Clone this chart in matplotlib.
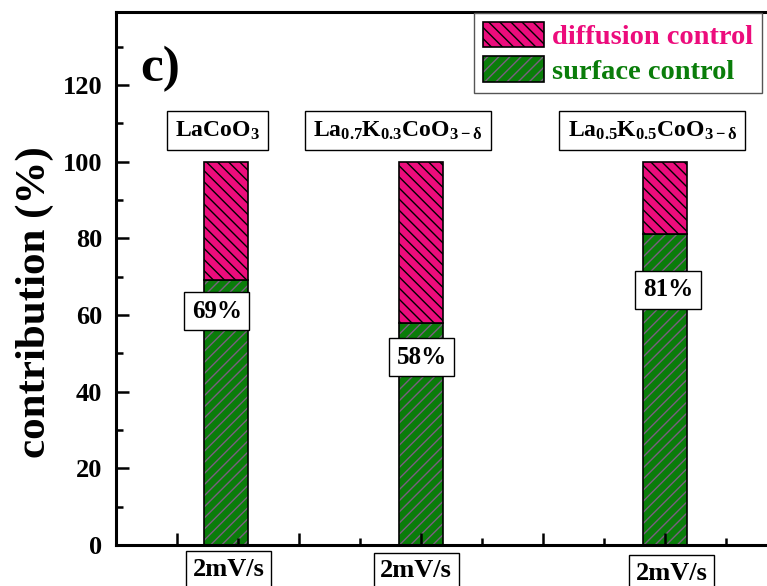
import numpy as np
import matplotlib
matplotlib.use("Agg")
from matplotlib import pyplot as plt
from matplotlib.patches import Patch
from matplotlib.legend_handler import HandlerTuple
from matplotlib.ticker import MultipleLocator


samples = ["LaCoO$_3$", "La$_{0.7}$K$_{0.3}$CoO$_{3\u2212\\delta}$", "La$_{0.5}$K$_{0.5}$CoO$_{3\u2212\\delta}$"]
scan_rates = ["2mV/s", "2mV/s", "2mV/s"]
surface_pct = np.array([69, 58, 81])
diffusion_pct = 100 - surface_pct

PINK = "#ec0c7c"
GREEN = "#0a7d0a"
HATCH_GRAY = "#7a5f80"

plt.rcParams["font.family"] = ["Liberation Serif", "DejaVu Serif"]
plt.rcParams["font.weight"] = "bold"
plt.rcParams["mathtext.fontset"] = "custom"
plt.rcParams["mathtext.rm"] = "Liberation Serif:bold"
plt.rcParams["mathtext.it"] = "Liberation Serif:bold"
plt.rcParams["mathtext.bf"] = "Liberation Serif:bold"
plt.rcParams["mathtext.default"] = "rm"
plt.rcParams["hatch.linewidth"] = 1.0

fig = plt.figure(figsize=(7.67, 5.86), dpi=100)
ax = fig.add_axes([0.1512, 0.0700, 0.875, 0.9095])

x = np.array([1.8, 5.0, 9.0])
width = 0.72

# green part: fill + grey hatch, then a plain black outline on top
ax.bar(x, surface_pct, width, color=GREEN, edgecolor=HATCH_GRAY, hatch="///", linewidth=0)
ax.bar(x, surface_pct, width, fill=False, edgecolor="black", linewidth=1.2)
ax.bar(x, diffusion_pct, width, bottom=surface_pct, color=PINK, edgecolor="black",
       hatch="\\\\\\", linewidth=1.2)

ax.set_xlim(0, 11)
ax.set_ylim(0, 139)
ax.xaxis.set_major_locator(MultipleLocator(2, offset=1))
ax.xaxis.set_minor_locator(MultipleLocator(1))
ax.yaxis.set_major_locator(MultipleLocator(20))
ax.yaxis.set_minor_locator(MultipleLocator(10))
ax.tick_params(axis="both", which="both", direction="in", width=1.8)
ax.tick_params(axis="both", which="major", length=9)
ax.tick_params(axis="both", which="minor", length=5)
ax.tick_params(axis="x", labelbottom=False)
ax.tick_params(axis="y", labelsize=19, pad=10)
ax.spines["right"].set_visible(False)
for side in ("left", "bottom", "top"):
    ax.spines[side].set_linewidth(2.2)

ax.set_ylabel("contribution (%)", fontsize=31, fontweight="bold")
ax.yaxis.set_label_coords(-0.093, 0.455)

box = dict(boxstyle="square,pad=0.35", facecolor="white", edgecolor="black", linewidth=1.0)

sample_x = [1.66, 4.62, 8.79]
for sx, name in zip(sample_x, samples):
    ax.text(sx, 108, name, fontsize=17, ha="center", va="center", bbox=box)

pct_x = [1.65, 5.01, 9.05]
pct_y = [61, 49, 66.5]
for px, py, v in zip(pct_x, pct_y, surface_pct):
    ax.text(px, py, f"{v}%", fontsize=18, ha="center", va="center",
            bbox=dict(box, boxstyle="square,pad=0.3"), zorder=5)

rate_x = [1.85, 4.92, 9.11]
rate_y = [-6.4, -6.7, -7.4]
for rx, ry, r in zip(rate_x, rate_y, scan_rates):
    ax.text(rx, ry, r, fontsize=19, ha="center", va="center",
            bbox=dict(box, boxstyle="square,pad=0.25"), clip_on=False)

ax.text(0.72, 124, "c)", fontsize=37, fontweight="bold", ha="center", va="center")

handles = [
    Patch(facecolor=PINK, edgecolor="black", hatch="\\\\\\", linewidth=1.2),
    (Patch(facecolor=GREEN, edgecolor=HATCH_GRAY, hatch="///", linewidth=0),
     Patch(fill=False, edgecolor="black", linewidth=1.2)),
]
leg = ax.legend(handles, ["diffusion control", "surface control"],
                handler_map={tuple: HandlerTuple(ndivide=1)},
                loc="upper right", bbox_to_anchor=(762 / 767, 1 - 13 / 586),
                bbox_transform=fig.transFigure, fontsize=20.5, frameon=True,
                fancybox=False, edgecolor="#555555", framealpha=1,
                handlelength=2.15, handleheight=1.0, handletextpad=0.3,
                labelspacing=0.22, borderpad=0.3, borderaxespad=0)
leg.get_frame().set_linewidth(1.0)
for txt, c in zip(leg.get_texts(), [PINK, GREEN]):
    txt.set_color(c)

fig.savefig("out.png", dpi=100)
